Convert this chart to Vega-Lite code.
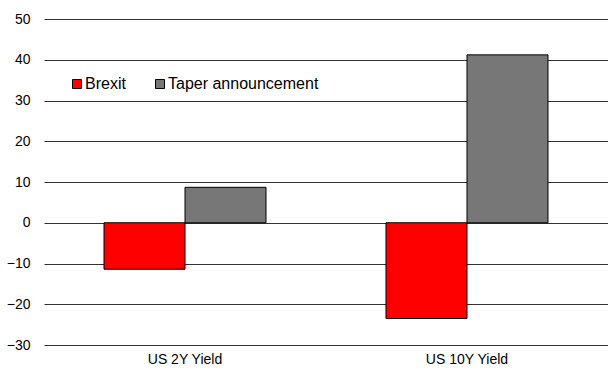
{
  "$schema": "https://vega.github.io/schema/vega-lite/v6.json",
  "width": 564,
  "height": 326,
  "autosize": {"type": "none"},
  "padding": {"left": 44, "top": 19, "right": 0, "bottom": 29},
  "config": {
    "font": "Liberation Sans",
    "view": {"stroke": null},
    "axis": {"labelFont": "Liberation Sans", "labelColor": "#000000"},
    "legend": {"labelFont": "Liberation Sans"}
  },
  "data": {
    "values": [
      {"cat": "US 2Y Yield", "series": "Brexit", "value": -11.4},
      {"cat": "US 2Y Yield", "series": "Taper announcement", "value": 8.7},
      {"cat": "US 10Y Yield", "series": "Brexit", "value": -23.5},
      {"cat": "US 10Y Yield", "series": "Taper announcement", "value": 41.2}
    ]
  },
  "mark": {"type": "bar", "stroke": "#000000", "strokeWidth": 1},
  "encoding": {
    "x": {
      "field": "cat",
      "type": "nominal",
      "sort": ["US 2Y Yield", "US 10Y Yield"],
      "scale": {"paddingInner": 0.4255, "paddingOuter": 0.2128},
      "axis": {
        "title": null,
        "labelAngle": 0,
        "domain": false,
        "ticks": false,
        "grid": false,
        "labelPadding": 7,
        "labelFontSize": 14
      }
    },
    "xOffset": {
      "field": "series",
      "type": "nominal",
      "sort": ["Brexit", "Taper announcement"],
      "scale": {"paddingInner": 0, "paddingOuter": 0}
    },
    "y": {
      "field": "value",
      "type": "quantitative",
      "scale": {"domain": [-30, 50], "nice": false, "zero": false},
      "axis": {
        "title": null,
        "values": [-30, -20, -10, 0, 10, 20, 30, 40, 50],
        "grid": true,
        "gridColor": "#333333",
        "gridWidth": 1,
        "gridOpacity": 1,
        "domain": false,
        "ticks": false,
        "labelPadding": 14,
        "labelFontSize": 14
      }
    },
    "color": {
      "field": "series",
      "type": "nominal",
      "sort": ["Brexit", "Taper announcement"],
      "scale": {"domain": ["Brexit", "Taper announcement"], "range": ["#FF0000", "#777777"]},
      "legend": {
        "title": null,
        "orient": "none",
        "legendX": 25,
        "legendY": 57,
        "direction": "horizontal",
        "symbolType": "square",
        "symbolSize": 81,
        "symbolStrokeColor": "#000000",
        "symbolStrokeWidth": 1,
        "symbolOpacity": 1,
        "labelFontSize": 16,
        "labelColor": "#000000",
        "labelOffset": 0,
        "columnPadding": 26,
        "padding": 0
      }
    }
  }
}
